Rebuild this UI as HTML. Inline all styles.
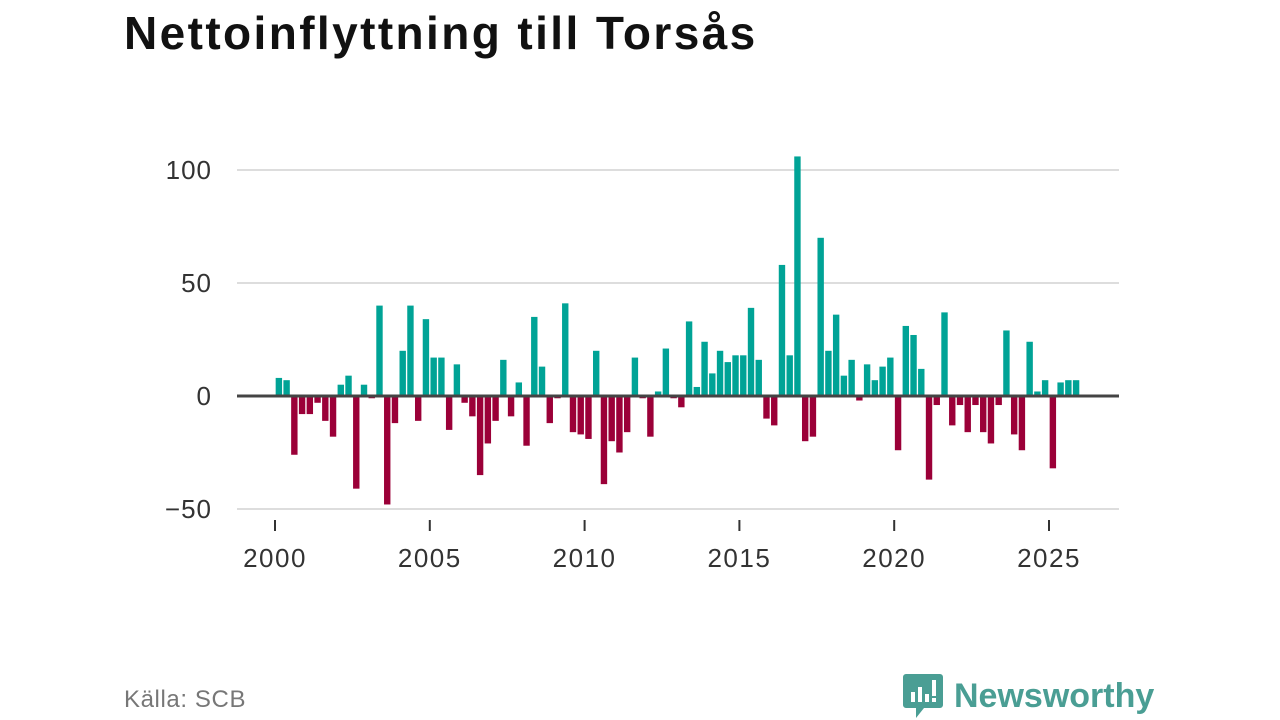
<!DOCTYPE html>
<html><head><meta charset="utf-8"><style>
body{margin:0;width:1280px;height:720px;background:#fff;font-family:"Liberation Sans",sans-serif;overflow:hidden;position:relative}
#title{position:absolute;left:124px;top:6px;font-size:46px;font-weight:bold;color:#111;margin:0;letter-spacing:2.4px}
#src{position:absolute;left:124px;top:686px;font-size:24px;color:#777;letter-spacing:0.6px}
#logo{position:absolute;left:902px;top:672px;display:flex;align-items:center}
#logo span{font-size:34px;font-weight:bold;color:#4a9e94;margin-left:10px}
</style></head><body>
<h1 id="title">Nettoinflyttning till Torsås</h1>
<svg id="chart" width="1280" height="720" style="position:absolute;left:0;top:0"></svg>
<div id="src">Källa: SCB</div>
<div id="logo">
<svg width="42" height="48"><path d="M4 2h34a3 3 0 0 1 3 3v28a3 3 0 0 1-3 3H22l-8 10v-10H4a3 3 0 0 1-3-3V5a3 3 0 0 1 3-3z" fill="#4a9e94"/><rect x="9" y="20" width="4" height="10" fill="#fff"/><rect x="16" y="15" width="4" height="15" fill="#fff"/><rect x="23" y="22" width="4" height="8" fill="#fff"/><rect x="30" y="8" width="4" height="16" fill="#fff"/><rect x="30" y="26" width="4" height="4" fill="#fff"/></svg>
<span>Newsworthy</span></div>
<script>
const values=[8,7,-26,-8, -8,-3,-11,-18, 5,9,-41,5, -1,40,-48,-12, 20,40,-11,34, 17,17,-15,14, -3,-9,-35,-21, -11,16,-9,6, -22,35,13,-12, -1,41,-16,-17, -19,20,-39,-20, -25,-16,17,-1, -18,2,21,-1, -5,33,4,24, 10,20,15,18, 18,39,16,-10, -13,58,18,106, -20,-18,70,20, 36,9,16,-2, 14,7,13,17, -24,31,27,12, -37,-4,37,-13, -4,-16,-4,-16, -21,-4,29,-17, -24,24,2,7, -32,6,7,7];
const startYear=2000;
const yTicks=[-50,0,50,100];
const xTicks=[2000,2005,2010,2015,2020,2025];
const NS="http://www.w3.org/2000/svg";
const svg=document.getElementById('chart');
const y=v=>396-v*2.26;
const x=t=>275+(t-2000)*30.96;
function mk(tag,attrs){const e=document.createElementNS(NS,tag);for(const k in attrs)e.setAttribute(k,attrs[k]);svg.appendChild(e);return e;}
yTicks.forEach(v=>{
 if(v!==0){const l=mk('line',{x1:237,x2:1119,y1:y(v),y2:y(v),stroke:'#ddd','stroke-width':2});
 
 }
 const t=mk('text',{x:212,y:y(v)+9,'text-anchor':'end','font-size':26,'letter-spacing':1,fill:'#333','font-family':'Liberation Sans, sans-serif'});
 t.textContent=v<0?'\u2212'+Math.abs(v):v;
 
 
});
values.forEach((v,i)=>{
 const cx=x(startYear+(i+0.5)/4);
 const r=mk('rect',{x:cx-3.2,y:Math.min(y(v),y(0)),width:6.4,height:Math.abs(y(v)-y(0)),fill:v>=0?'#00a396':'#9b0038'});
 
 
});
const z=mk('line',{x1:237,x2:1119,y1:y(0),y2:y(0),stroke:'#444','stroke-width':3});


xTicks.forEach(yr=>{
 const l=mk('line',{x1:x(yr),x2:x(yr),y1:520,y2:531,stroke:'#333','stroke-width':2});
 
 
 const t=mk('text',{x:x(yr),y:567,'text-anchor':'middle','font-size':26,'letter-spacing':1.5,fill:'#333','font-family':'Liberation Sans, sans-serif'});
 t.textContent=yr;
 
 
});
</script>
</body></html>
